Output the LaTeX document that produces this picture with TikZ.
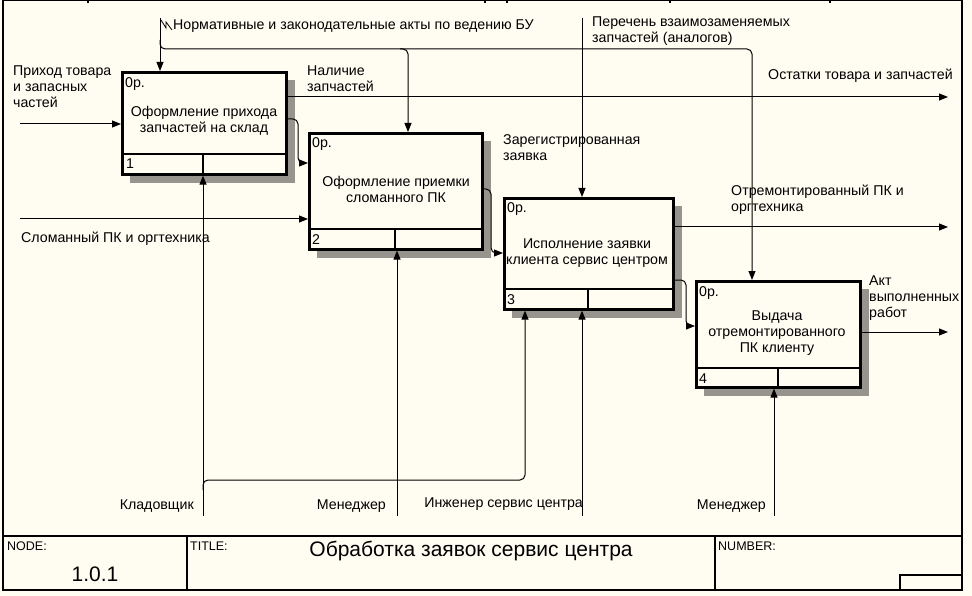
\documentclass[tikz,border=0pt]{standalone}
\usepackage{fontspec}
\setmainfont{Liberation Sans}
\usetikzlibrary{arrows.meta}
\definecolor{bgc}{RGB}{255,252,242}
\definecolor{shadec}{RGB}{150,148,140}
\begin{document}
\begin{tikzpicture}[x=1pt,y=-1pt,
  lbl/.style={inner sep=0pt,font=\fontsize{14.2}{16}\selectfont,align=left},
  ctext/.style={inner sep=0pt,font=\fontsize{14.2}{16}\selectfont,align=center},
  fbox/.style={draw,line width=2.6pt,fill=bgc,anchor=north west,inner sep=0pt},
  sdw/.style={fill=shadec},
  divl/.style={line width=2.2pt},
  conn/.style={line width=1pt,rounded corners=5pt,-{Triangle[length=9pt,width=7pt]}},
  frame/.style={line width=1.3pt},
  small/.style={inner sep=0pt,font=\fontsize{12.5}{14}\selectfont},
  big/.style={inner sep=0pt,font=\fontsize{21}{24}\selectfont}]
\fill[bgc] (0,0) rectangle (972,596);
\useasboundingbox (0,0) rectangle (972,596);

% frame
\draw[frame] (3,0.7) -- (3,590) -- (962,590) -- (962,0.7) -- cycle;
\foreach \tx in {88,485,507,670,830} \draw[frame] (\tx,0) -- (\tx,3);
\draw[frame] (3,536) -- (962,536);
\draw[frame] (187,536) -- (187,590);
\draw[frame] (715,536) -- (715,590);
\draw[frame] (900,590) -- (900,575) -- (962,575);
\node[small,anchor=base west] (nodel) at (7,550) {NODE:};
\node[small,anchor=base west] (titlel) at (190,550) {TITLE:};
\node[small,anchor=base west] (numl) at (718,550) {NUMBER:};
\node[big,anchor=base] (nodenum) at (95,581) {1.0.1};
\node[big,anchor=base] (titlet) at (471,556) {Обработка заявок сервис центра};

% shadows
\fill[sdw] (130,80) rectangle (295,183);
\fill[sdw] (317,141) rectangle (491,258);
\fill[sdw] (512,206) rectangle (682,318);
\fill[sdw] (704,289) rectangle (869,396);

% boxes
\node[fbox,minimum width=164,minimum height=102] (b1) at (121,71) {};
\node[fbox,minimum width=173,minimum height=116] (b2) at (308,132) {};
\node[fbox,minimum width=169,minimum height=111] (b3) at (503,197) {};
\node[fbox,minimum width=164,minimum height=106] (b4) at (695,280) {};
\draw[divl] (121,154) -- (285,154) (203,154) -- (203,173);
\draw[divl] (308,229) -- (481,229) (395,229) -- (395,248);
\draw[divl] (503,289) -- (672,289) (588,289) -- (588,308);
\draw[divl] (695,368) -- (859,368) (778,368) -- (778,386);

\node[lbl,anchor=base west] (o1) at (125,88) {0р.};
\node[lbl,anchor=base west] (o2) at (312,148) {0р.};
\node[lbl,anchor=base west] (o3) at (507,213) {0р.};
\node[lbl,anchor=base west] (o4) at (699,296) {0р.};
\node[lbl,anchor=base west] (n1) at (126,169) {1};
\node[lbl,anchor=base west] (n2) at (312,244) {2};
\node[lbl,anchor=base west] (n3) at (507,304) {3};
\node[lbl,anchor=base west] (n4) at (699,383) {4};
\node[ctext] (t1) at (204,121) {Оформление прихода\\запчастей на склад};
\node[ctext] (t2) at (396,189) {Оформление приемки\\сломанного ПК};
\node[ctext] (t3) at (587,253) {Исполнение заявки\\клиента сервис центром};
\node[ctext] (t4) at (777,333) {Выдача\\отремонтированного\\ПК клиенту};

% free ends
\coordinate (in1) at (20,124);
\coordinate (in2) at (20,219);
\coordinate (out1) at (948,97);
\coordinate (out2) at (948,227);
\coordinate (out3) at (948,332);
\coordinate (c1) at (160,18);
\coordinate (c1b) at (160,40);
\coordinate (c2) at (582,18);
\coordinate (m1) at (203,516);
\coordinate (m1b) at (203,490);
\coordinate (m2) at (397,516);
\coordinate (m3) at (582,516);
\coordinate (m4) at (774,516);

% inputs
\draw[conn] (in1) -- (in1 -| b1.west);
\draw[conn] (in2) -- (in2 -| b2.west);
% outputs
\draw[conn] (b1.east |- out1) -- (out1);
\draw[conn] (b1.east |- 0,119) -- (298,119) -- (298,163) -- (b2.west |- 0,163);
\draw[conn] (b2.east |- 0,189) -- (491,189) -- (491,253) -- (b3.west |- 0,253);
\draw[conn] (b3.east |- out2) -- (out2);
\draw[conn] (b3.east |- 0,280) -- (686,280) -- (686,326) -- (b4.west |- 0,326);
\draw[conn] (b4.east |- out3) -- (out3);
% controls
\draw[conn] (c1) -- (c1 |- b1.north);
\draw[conn] (c1b) -- (160,49) -- (752,49) -- (752,0 |- b4.north);
\draw[conn] (400,49) -- (408,49) -- (408,0 |- b2.north);
\draw[conn] (c2) -- (c2 |- b3.north);
\draw[line width=0.8pt] (161,20) -- (166,28) -- (166,22) -- (172,30);
% mechanisms
\draw[conn] (m1) -- (m1 |- b1.south);
\draw[conn] (m1b) -- (203,480) -- (525,480) -- (525,0 |- b3.south);
\draw[conn] (m2) -- (m2 |- b2.south);
\draw[conn] (m3) -- (m3 |- b3.south);
\draw[conn] (m4) -- (m4 |- b4.south);

% labels
\node[lbl,anchor=north west] (l1) at (13,66) {Приход товара\\и запасных\\частей};
\node[lbl,anchor=north west] (l2) at (307,66) {Наличие\\запчастей};
\node[lbl,anchor=base west] (l3) at (768,80) {Остатки товара и запчастей};
\node[lbl,anchor=base west] (l4) at (21,243) {Сломанный ПК и оргтехника};
\node[lbl,anchor=north west] (l5) at (503,134) {Зарегистрированная\\заявка};
\node[lbl,anchor=north west] (l6) at (731,185) {Отремонтированный ПК и\\оргтехника};
\node[lbl,anchor=north west] (l7) at (869,276) {Акт\\выполненных\\работ};
\node[lbl,anchor=base west] (l8) at (173,30) {Нормативные и законодательные акты по ведению БУ};
\node[lbl,anchor=north west] (l9) at (592,17) {Перечень взаимозаменяемых\\запчастей (аналогов)};
\node[lbl,anchor=base east] (l10) at (194,509) {Кладовщик};
\node[lbl,anchor=base east] (l11) at (386,509) {Менеджер};
\node[lbl,anchor=base east] (l12) at (583,507) {Инженер сервис центра};
\node[lbl,anchor=base east] (l13) at (766,509) {Менеджер};
\end{tikzpicture}
\end{document}
